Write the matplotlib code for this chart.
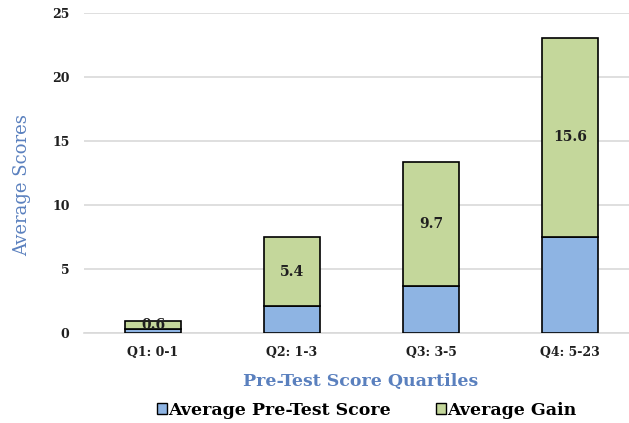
import matplotlib
matplotlib.use("Agg")
import matplotlib.pyplot as plt
from matplotlib.patches import Patch
import numpy as np

categories = ["Q1: 0-1", "Q2: 1-3", "Q3: 3-5", "Q4: 5-23"]
pre_test = [0.35, 2.1, 3.7, 7.5]
gain = [0.6, 5.4, 9.7, 15.6]
gain_labels = ["0.6", "5.4", "9.7", "15.6"]
yticks = [0, 5, 10, 15, 20, 25]

blue = "#8EB4E3"
green = "#C4D79B"
title_blue = "#5A80BE"
text_dark = "#1F1F1F"

plt.rcParams["font.family"] = ["DejaVu Serif"]

fig = plt.figure(figsize=(6.29, 4.23), dpi=100)
W, H = 629, 423
left, right = 83.5, 639.5
top, bottom = 13.3, 333.3
ax = fig.add_axes([left / W, 1 - bottom / H, (right - left) / W, (bottom - top) / H])

x = np.arange(len(categories))
bw = 0.41
ax.bar(x, pre_test, bw, color=blue, edgecolor="black", linewidth=1.2, zorder=3)
ax.bar(x, gain, bw, bottom=pre_test, color=green, edgecolor="black", linewidth=1.2, zorder=3)

for i in range(len(categories)):
    ax.text(x[i], pre_test[i] + gain[i] / 2, gain_labels[i], ha="center", va="center",
            fontsize=10, fontweight="bold", color=text_dark, zorder=4)

ax.set_xlim(-0.5, len(categories) - 0.5)
ax.set_ylim(0, 25)
ax.set_yticks(yticks)
ax.set_yticklabels([str(t) for t in yticks], fontsize=9, fontweight="bold", color=text_dark)
ax.set_xticks(x)
ax.set_xticklabels(categories, fontsize=9, fontweight="bold", color=text_dark)
ax.tick_params(axis="y", length=0, pad=10)
ax.tick_params(axis="x", length=0, pad=9)
ax.grid(axis="y", color="#D9D9D9", linewidth=1.2, zorder=0)
for s in ["top", "right", "left"]:
    ax.spines[s].set_visible(False)
ax.spines["bottom"].set_color("#D9D9D9")
ax.spines["bottom"].set_linewidth(1.2)

fig.text(21.7 / W, 1 - 185 / H, "Average Scores", rotation=90, ha="center", va="center",
         fontsize=13, color=title_blue)
fig.text(361 / W, 1 - 381 / H, "Pre-Test Score Quartiles", ha="center", va="center",
         fontsize=12.5, fontweight="bold", color=title_blue)

handles = [Patch(facecolor=blue, edgecolor="black", linewidth=1.0),
           Patch(facecolor=green, edgecolor="black", linewidth=1.0)]
fig.legend(handles, ["Average Pre-Test Score", "Average Gain"], loc="center",
           bbox_to_anchor=(367 / W, 1 - 410 / H), ncol=2, frameon=False,
           prop={"weight": "bold", "size": 12.5}, handlelength=0.55, handleheight=0.55,
           handletextpad=0.1, columnspacing=2.6)

fig.savefig("out.png", dpi=100)
